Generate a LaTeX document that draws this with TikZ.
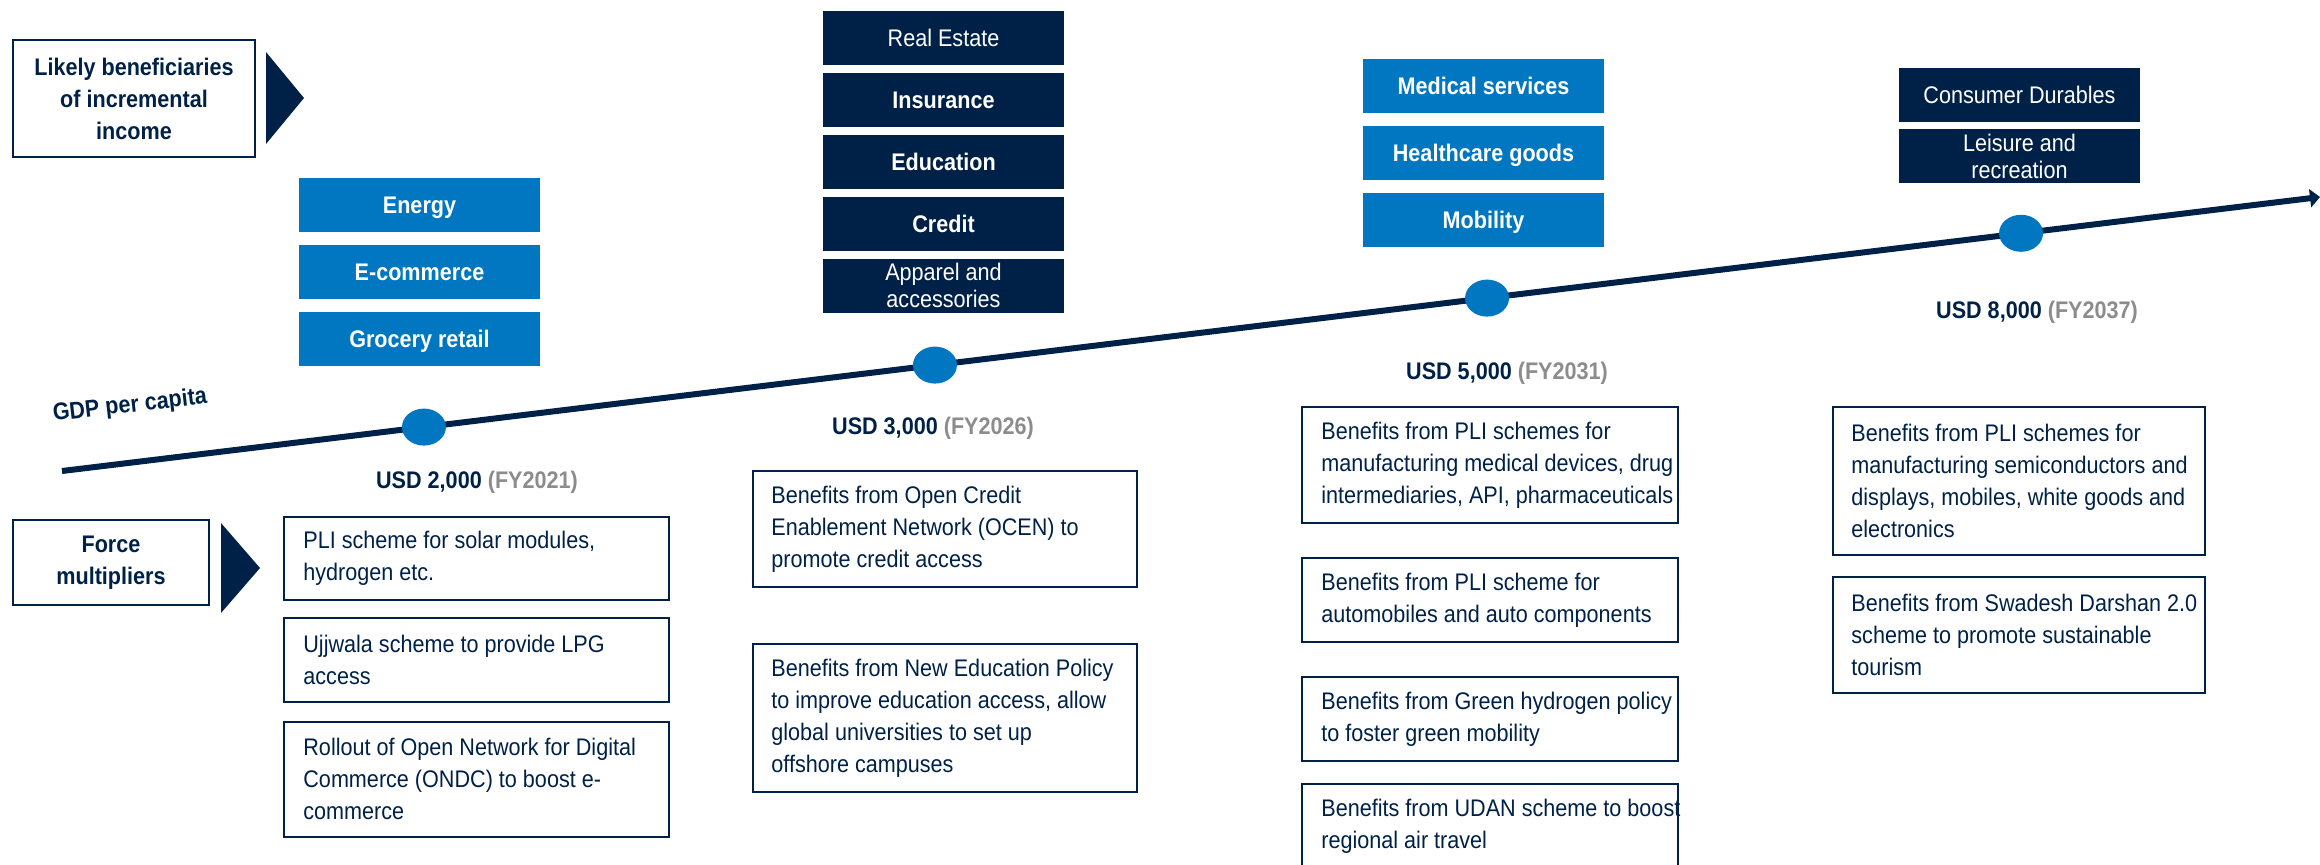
\documentclass[tikz,border=0pt]{standalone}
\usepackage{fontspec}
\setmainfont{Liberation Sans}[FakeStretch=0.9]
\usetikzlibrary{positioning,shapes.geometric,arrows.meta}
\definecolor{navy}{RGB}{0,33,71}
\definecolor{kblue}{RGB}{0,119,192}
\definecolor{fygrey}{RGB}{140,140,140}
\newdimen\px \px=0.5pt

\tikzset{
  sector/.style={minimum width=241\px, minimum height=54\px, inner sep=0pt, align=center,
    text=white, text height=8.6pt, text depth=0pt, font=\fontsize{12}{16}\selectfont\bfseries},
  lightsec/.style={sector, fill=kblue},
  darksec/.style={sector, fill=navy},
  twoline/.style={text height=, text depth=, font=\fontsize{12}{13.5}\selectfont\mdseries},
  legend/.style={draw=navy, line width=1pt, inner sep=0pt, align=center, text=navy,
    font=\fontsize{12}{16}\selectfont\bfseries},
  plan/.style={draw=navy, line width=0.8pt, anchor=north west, inner sep=0pt},
  plantext/.style={anchor=west, align=left, inner sep=0pt, text=navy,
    font=\fontsize{12}{16}\selectfont},
  usd/.style={anchor=base, inner sep=0pt, text=navy, font=\fontsize{12}{16}\selectfont\bfseries},
  dot/.style={ellipse, fill=kblue, minimum width=44\px, minimum height=37\px, inner sep=0pt}
}

\begin{document}
\begin{tikzpicture}[x=0.5pt,y=-0.5pt]
	\useasboundingbox (0,0) rectangle (2320,864);
	\clip (0,0) rectangle (2320,864);

	% row headers
	\node[legend, minimum width=242\px, minimum height=117\px] (likely) at (134,98.5) {Likely beneficiaries\\of incremental\\income};
	\fill[navy] (266,52) -- (304,98) -- (266,144) -- cycle;
	\node[legend, minimum width=196\px, minimum height=85\px] (force) at (111,562.5) {Force\\multipliers};
	\fill[navy] (221,523) -- (260,568) -- (221,613) -- cycle;

	% timeline
	\draw[navy, line width=3pt, -{Triangle[length=5pt,width=9pt]}] (62,471) -- (2320,197)
		node[dot, pos=0.1603] (d1) {}
		node[dot, pos=0.3866] (d2) {}
		node[dot, pos=0.6311] (d3) {}
		node[dot, pos=0.8676] (d4) {};
	\node[text=navy, font=\fontsize{12}{16}\selectfont\bfseries, rotate=6.5, inner sep=0pt] (gdp) at (130,406) {GDP per capita};

	\node[usd] (u1) at (477,488) {USD 2,000 {\color{fygrey}(FY2021)}};
	\node[usd] (u2) at (933,434) {USD 3,000 {\color{fygrey}(FY2026)}};
	\node[usd] (u3) at (1507,379) {USD 5,000 {\color{fygrey}(FY2031)}};
	\node[usd] (u4) at (2037,318) {USD 8,000 {\color{fygrey}(FY2037)}};

	% beneficiaries
	\node[lightsec] (energy) at (419.5,205) {Energy};
	\node[lightsec, below=12\px of energy] (ecom) {E-commerce};
	\node[lightsec, below=12.5\px of ecom] (grocery) {Grocery retail};

	\node[darksec, font=\fontsize{12}{16}\selectfont\mdseries] (realestate) at (943.5,38) {Real Estate};
	\node[darksec, below=7\px of realestate] (insurance) {Insurance};
	\node[darksec, below=7\px of insurance] (education) {Education};
	\node[darksec, below=7.5\px of education] (credit) {Credit};
	\node[darksec, twoline, below=7\px of credit] (apparel) {Apparel and\\accessories};

	\node[lightsec] (medical) at (1483.5,86) {Medical services};
	\node[lightsec, below=12\px of medical] (health) {Healthcare goods};
	\node[lightsec, below=12\px of health] (mobility) {Mobility};

	\node[darksec, font=\fontsize{12}{16}\selectfont\mdseries] (durables) at (2019.5,94.5) {Consumer Durables};
	\node[darksec, twoline, below=7\px of durables] (leisure) {Leisure and\\recreation};

	% force multipliers, FY2021
	\node[plan, minimum width=385\px, minimum height=83\px] (pli) at (283,516) {};
	\node[plantext] (pli-t) at ([xshift=20\px]pli.west) {PLI scheme for solar modules,\\hydrogen etc.};
	\node[plan, minimum width=385\px, minimum height=84\px] (ujjwala) at (283,617) {};
	\node[plantext] (ujjwala-t) at ([xshift=20\px]ujjwala.west) {Ujjwala scheme to provide LPG\\access};
	\node[plan, minimum width=385\px, minimum height=115\px] (ondc) at (283,721) {};
	\node[plantext] (ondc-t) at ([xshift=20\px]ondc.west) {Rollout of Open Network for Digital\\Commerce (ONDC) to boost e-\\commerce};

	% FY2026
	\node[plan, minimum width=384\px, minimum height=116\px] (ocen) at (752,470) {};
	\node[plantext] (ocen-t) at ([xshift=19\px]ocen.west) {Benefits from Open Credit\\Enablement Network (OCEN) to\\promote credit access};
	\node[plan, minimum width=384\px, minimum height=148\px] (nep) at (752,643) {};
	\node[plantext] (nep-t) at ([xshift=19\px]nep.west) {Benefits from New Education Policy\\to improve education access, allow\\global universities to set up\\offshore campuses};

	% FY2031
	\node[plan, minimum width=376\px, minimum height=116\px] (pharma) at (1301,406) {};
	\node[plantext] (pharma-t) at ([xshift=20\px]pharma.west) {Benefits from PLI schemes for\\manufacturing medical devices, drug\\intermediaries, API, pharmaceuticals};
	\node[plan, minimum width=376\px, minimum height=84\px] (auto) at (1301,557) {};
	\node[plantext] (auto-t) at ([xshift=20\px]auto.west) {Benefits from PLI scheme for\\automobiles and auto components};
	\node[plan, minimum width=376\px, minimum height=84\px] (hydrogen) at (1301,676) {};
	\node[plantext] (hydrogen-t) at ([xshift=20\px]hydrogen.west) {Benefits from Green hydrogen policy\\to foster green mobility};
	\node[plan, minimum width=376\px, minimum height=116\px] (udan) at (1301,783) {};
	\node[plantext] (udan-t) at ([xshift=20\px]udan.north west) [anchor=north west, yshift=-16\px] {Benefits from UDAN scheme to boost\\regional air travel};

	% FY2037
	\node[plan, minimum width=372\px, minimum height=148\px] (semicon) at (1832,406) {};
	\node[plantext] (semicon-t) at ([xshift=19\px]semicon.west) {Benefits from PLI schemes for\\manufacturing semiconductors and\\displays, mobiles, white goods and\\electronics};
	\node[plan, minimum width=372\px, minimum height=116\px] (darshan) at (1832,576) {};
	\node[plantext] (darshan-t) at ([xshift=19\px]darshan.west) {Benefits from Swadesh Darshan 2.0\\scheme to promote sustainable\\tourism};
\end{tikzpicture}
\end{document}
